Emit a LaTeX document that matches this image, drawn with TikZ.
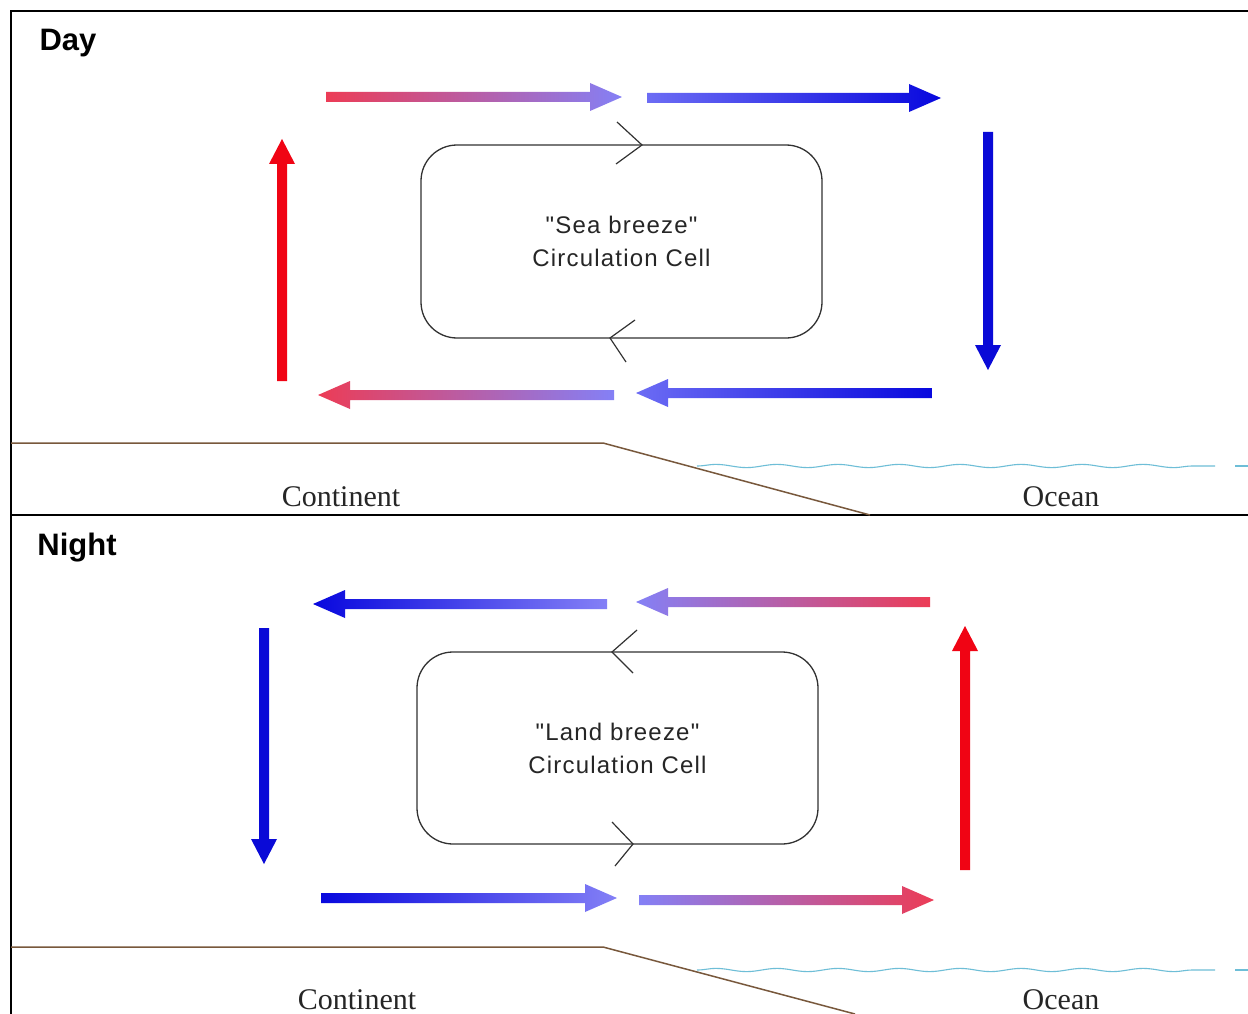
\documentclass[tikz,border=0pt]{standalone}
\usepackage{fontspec}
\setmainfont{Liberation Serif}
\newfontfamily\labfont{Liberation Sans}
\newfontfamily\cellfont[LetterSpace=5]{Liberation Sans}
\usetikzlibrary{decorations.pathmorphing}
\definecolor{redA}{RGB}{236,60,86}
\definecolor{lavA}{RGB}{132,128,246}
\definecolor{lavB}{RGB}{108,108,244}
\definecolor{blueA}{RGB}{8,8,222}
\definecolor{pureRed}{RGB}{240,4,20}
\definecolor{pureBlue}{RGB}{10,10,215}
\definecolor{groundC}{RGB}{120,88,60}
\definecolor{waveC}{RGB}{110,190,215}
\definecolor{cellC}{RGB}{50,50,50}
% horizontal gradient arrow: tail x, tip x, y, left colour, right colour
\newcommand\hgarrow[5]{\shade[left color=#4,right color=#5]
  (#1,{#3-5}) -- ({#2-32*sign(#2-#1)},{#3-5}) -- ({#2-32*sign(#2-#1)},{#3-14})
  -- (#2,#3) -- ({#2-32*sign(#2-#1)},{#3+14}) -- ({#2-32*sign(#2-#1)},{#3+5})
  -- (#1,{#3+5}) -- cycle;}
% vertical solid arrow: x, tail y, tip y, colour
\newcommand\vsarrow[4]{\fill[#4]
  ({#1-5},#2) -- ({#1-5},{#3-25*sign(#3-#2)}) -- ({#1-13},{#3-25*sign(#3-#2)})
  -- (#1,#3) -- ({#1+13},{#3-25*sign(#3-#2)}) -- ({#1+5},{#3-25*sign(#3-#2)})
  -- ({#1+5},#2) -- cycle;}
\tikzset{
  frame/.style={line width=1.8pt, black},
  title/.style={font=\labfont\bfseries\fontsize{31}{36}\selectfont, inner sep=0pt},
  place/.style={font=\fontsize{30}{34}\selectfont, inner sep=0pt, text=black!85},
  cell/.style={draw=cellC, line width=1.3pt, rounded corners=36pt, align=center,
    font=\cellfont\fontsize{24}{33}\selectfont, text=black!85},
  chev/.style={draw=cellC, line width=1.2pt},
  ground/.style={draw=groundC, line width=1.5pt},
  wave/.style={draw=waveC, line width=1.1pt},
}
\begin{document}
\begin{tikzpicture}[x=1pt,y=-1pt]
\useasboundingbox (0,0) rectangle (1248,1014);
\fill[white] (0,0) rectangle (1248,1014);
% frame
\draw[frame] (11,1014) -- (11,11) -- (1248,11);
\draw[frame] (11,515) -- (1248,515);

% ================= DAY =================
\node[title] (dayt) at (68,43) {Day};
\hgarrow{326}{622}{97}{redA}{lavA}
\hgarrow{647}{941}{98}{lavB}{blueA}
\vsarrow{988}{132}{370}{pureBlue}
\hgarrow{932}{636}{393}{lavB}{blueA}
\hgarrow{614}{318}{395}{redA}{lavA}
\vsarrow{282}{381}{139}{pureRed}
\node[cell, minimum width=401pt, minimum height=193pt] (daycell) at (621.5,241.5)
  {"Sea breeze"\\Circulation Cell};
\draw[chev] (617,122) -- (642,145) -- (616,164);
\draw[chev] (635,320) -- (610,338) -- (626,362);
\draw[ground] (11,443) -- (603,443) -- (870,515);
\draw[wave, decorate, decoration={snake, segment length=61pt, amplitude=1.6pt}] (697,466) -- (1215,466);
\draw[wave] (1235,466) -- (1248,466);
\node[place] (daycont) at (341,497) {Continent};
\node[place] (dayocean) at (1061,497) {Ocean};

% ================= NIGHT =================
\node[title] (nightt) at (77,548) {Night};
\hgarrow{607}{313}{604}{blueA}{lavA}
\hgarrow{930}{636}{602}{lavA}{redA}
\vsarrow{965}{870}{626}{pureRed}
\vsarrow{264}{628}{864}{pureBlue}
\hgarrow{321}{617}{898}{blueA}{lavA}
\hgarrow{639}{934}{900}{lavA}{redA}
\node[cell, minimum width=401pt, minimum height=192pt] (nightcell) at (617.5,748)
  {"Land breeze"\\Circulation Cell};
\draw[chev] (637,630) -- (612,652) -- (633,673);
\draw[chev] (612,822) -- (633,844) -- (615,866);
\draw[ground] (11,947) -- (603,947) -- (855,1014);
\draw[wave, decorate, decoration={snake, segment length=61pt, amplitude=1.6pt}] (697,970) -- (1215,970);
\draw[wave] (1235,970) -- (1248,970);
\node[place] (nightcont) at (357,1000) {Continent};
\node[place] (nightocean) at (1061,1000) {Ocean};
\end{tikzpicture}
\end{document}
